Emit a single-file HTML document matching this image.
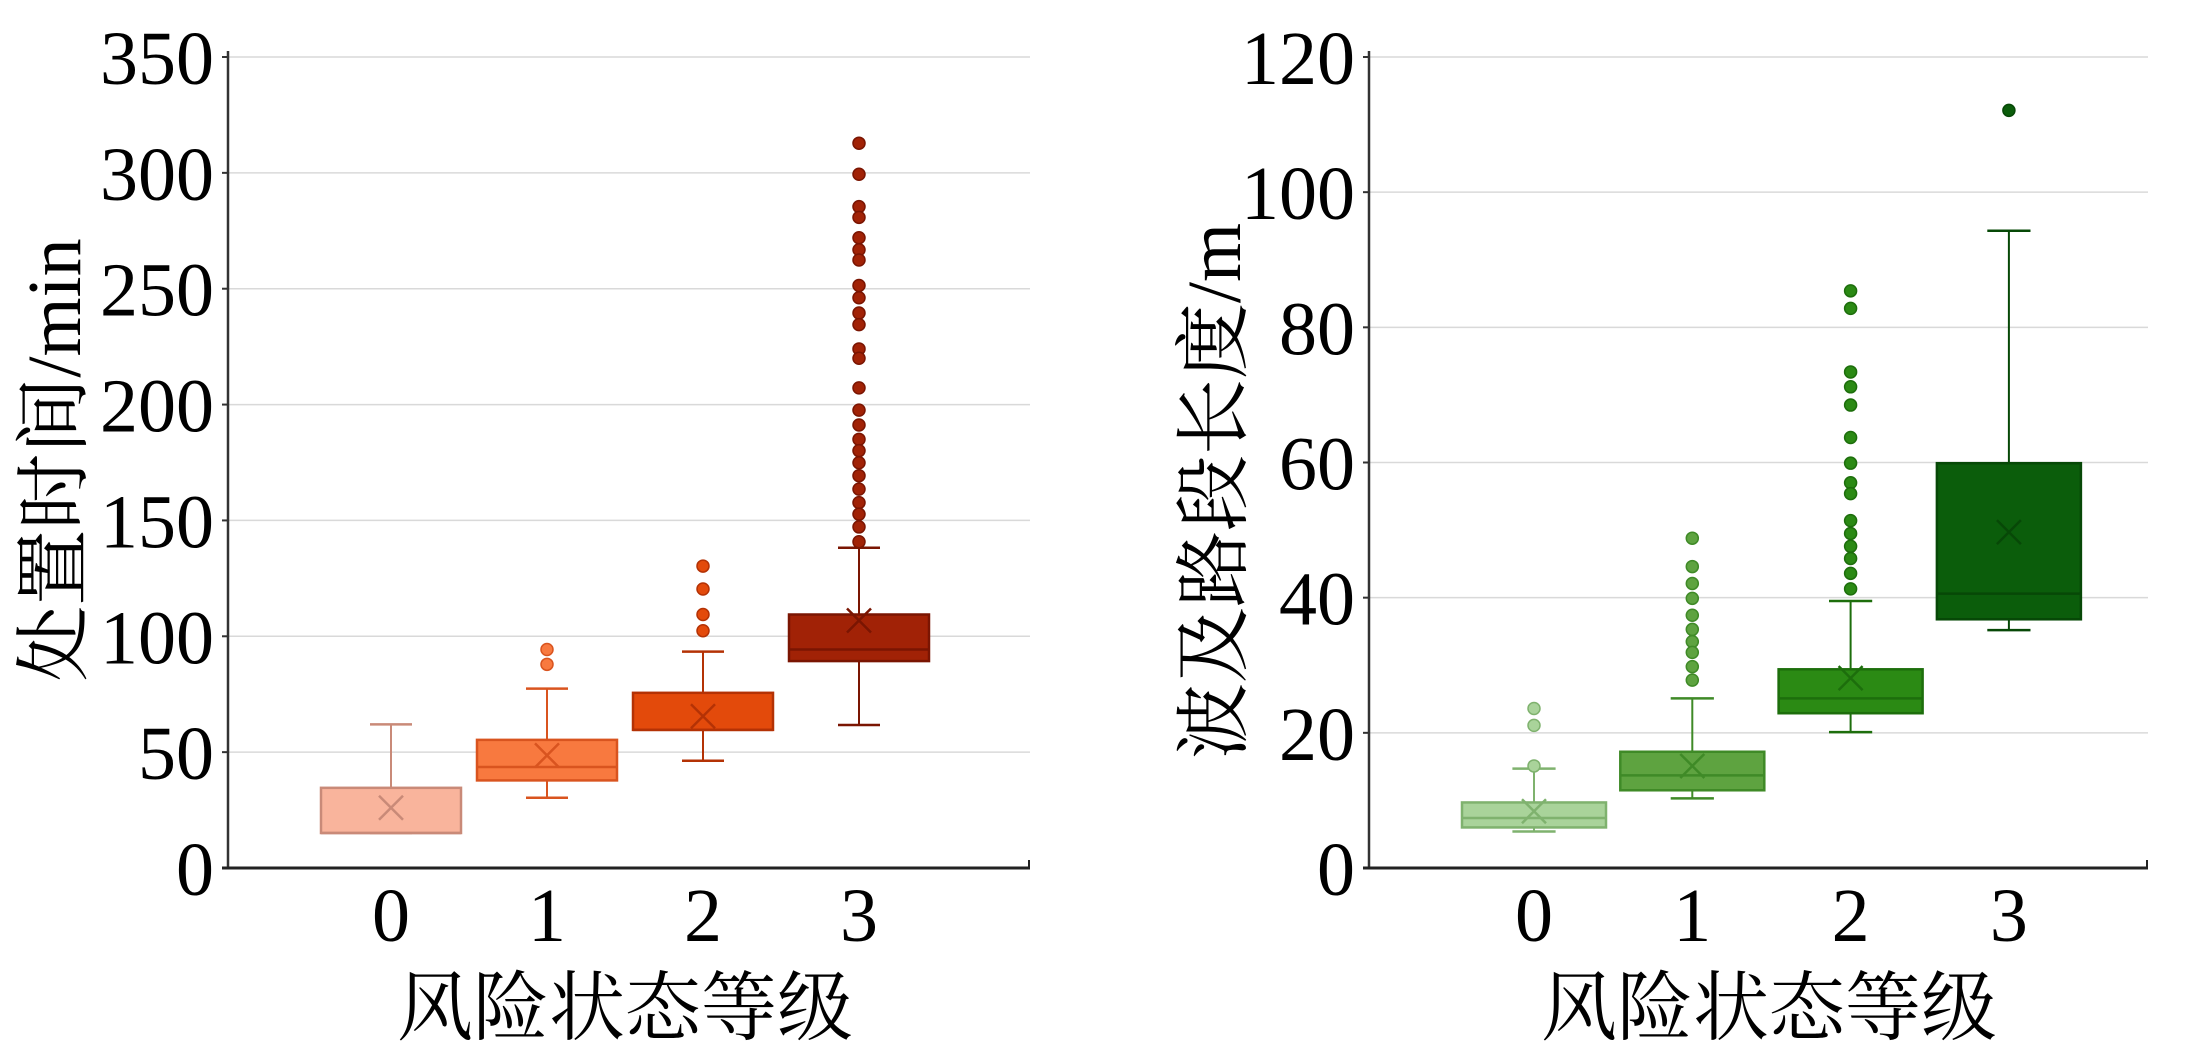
<!DOCTYPE html>
<html><head><meta charset="utf-8"><style>
html,body{margin:0;padding:0;background:#fff;width:2187px;height:1059px;overflow:hidden}
svg{display:block}
text{font-family:"Liberation Serif","Noto Serif CJK SC",serif;fill:#000}
</style></head><body>
<svg id="chart" width="2187" height="1059" viewBox="0 0 2187 1059" xmlns="http://www.w3.org/2000/svg"></svg>
<script>
// ---- data: left chart (处置时间/min) ----
const categories = ["0","1","2","3"];
const leftTicks = [0,50,100,150,200,250,300,350];
const leftQ1 = [15.1, 37.8, 59.6, 89.3];
const leftQ3 = [34.6, 55.3, 75.6, 109.4];
const leftMedian = [15.1, 43.6, 59.6, 94.3];
const leftMean = [26, 48.6, 65.5, 106.8];
const leftWhiskerLow = [15.1, 30.3, 46.3, 61.7];
const leftWhiskerHigh = [62, 77.4, 93.4, 138.2];
const leftOutliers0 = [];
const leftOutliers1 = [94.3, 87.9];
const leftOutliers2 = [130.3, 120.4, 109.4, 102.4];
const leftOutliers3 = [312.8,299.4,285.4,280.8,272,266.8,262.4,251.4,246.1,239.5,234.5,224,220,207.2,197.6,191.2,185,180.1,174.9,169.3,163.5,157.7,152.7,147.2,140.8];
// ---- data: right chart (波及路段长度/m) ----
const rightTicks = [0,20,40,60,80,100,120];
const rightQ1 = [6.0, 11.5, 22.9, 36.8];
const rightQ3 = [9.7, 17.2, 29.4, 59.9];
const rightMedian = [7.4, 13.7, 25.1, 40.6];
const rightMean = [8.4, 15.1, 28.1, 49.7];
const rightWhiskerLow = [5.4, 10.3, 20.1, 35.2];
const rightWhiskerHigh = [14.7, 25.1, 39.5, 94.3];
const rightOutliers0 = [15.1, 21.1, 23.6];
const rightOutliers1 = [48.8,44.6,42.1,39.9,37.4,35.3,33.5,31.9,29.8,27.8];
const rightOutliers2 = [85.4,82.8,73.4,71.2,68.5,63.7,59.9,57,55.4,51.4,49.5,47.6,45.8,43.6,41.3];
const rightOutliers3 = [112.1];

const NS="http://www.w3.org/2000/svg";
const svg=document.getElementById('chart');
function mk(tag,attrs,parent){const e=document.createElementNS(NS,tag);for(const k in attrs)e.setAttribute(k,attrs[k]);(parent||svg).appendChild(e);return e;}

function drawPanel(cfg){
  const g=mk('g',{});
  
  
  const y=v=>cfg.y0-(v-cfg.min)/(cfg.max-cfg.min)*(cfg.y0-cfg.y1);
  const x=i=>cfg.cx0+i*cfg.step;
  cfg.ticks.forEach(t=>{
    if(t>0){const gl=mk('line',{x1:cfg.ax,x2:cfg.axEnd,y1:y(t),y2:y(t),stroke:'#d9d9d9','stroke-width':1.5},g);
      }
    const tk=mk('line',{x1:cfg.ax-6,x2:cfg.ax,y1:y(t),y2:y(t),stroke:'#333','stroke-width':2},g);
    
    const tl=mk('text',{x:cfg.ax-14,y:y(t)+27,'text-anchor':'end','font-size':76},g);
    tl.textContent=t;
    
  });
  const ya=mk('line',{x1:cfg.ax,x2:cfg.ax,y1:cfg.y1-6,y2:cfg.y0+1,stroke:'#333','stroke-width':2.5},g);
  
  const xa=mk('line',{x1:cfg.ax-6,x2:cfg.axEnd,y1:cfg.y0,y2:cfg.y0,stroke:'#222','stroke-width':3},g);
  
  const et=mk('line',{x1:cfg.axEnd-1,x2:cfg.axEnd-1,y1:cfg.y0-8,y2:cfg.y0,stroke:'#222','stroke-width':2},g);
  
  categories.forEach((c,i)=>{
    const cx=x(i), hw=cfg.bw/2, wh=cfg.bw*0.15;
    const col=cfg.fills[i], st=cfg.strokes[i];
    const bg=mk('g',{},g);
    
    mk('line',{x1:cx,x2:cx,y1:y(cfg.wh[i]),y2:y(cfg.q3[i]),stroke:st,'stroke-width':2},bg);
    mk('line',{x1:cx,x2:cx,y1:y(cfg.q1[i]),y2:y(cfg.wl[i]),stroke:st,'stroke-width':2},bg);
    mk('line',{x1:cx-wh,x2:cx+wh,y1:y(cfg.wh[i]),y2:y(cfg.wh[i]),stroke:st,'stroke-width':2.5},bg);
    mk('line',{x1:cx-wh,x2:cx+wh,y1:y(cfg.wl[i]),y2:y(cfg.wl[i]),stroke:st,'stroke-width':2.5},bg);
    mk('rect',{x:cx-hw,y:y(cfg.q3[i]),width:cfg.bw,height:y(cfg.q1[i])-y(cfg.q3[i]),fill:col,stroke:st,'stroke-width':2.5},bg);
    mk('line',{x1:cx-hw,x2:cx+hw,y1:y(cfg.med[i]),y2:y(cfg.med[i]),stroke:st,'stroke-width':2.5},bg);
    const m=y(cfg.mean[i]), s=12;
    mk('path',{d:`M${cx-s} ${m-s}L${cx+s} ${m+s}M${cx-s} ${m+s}L${cx+s} ${m-s}`,stroke:st,'stroke-width':2.5,fill:'none'},bg);
    cfg.outs[i].forEach(v=>{
      const o=mk('circle',{cx:cx,cy:y(v),r:6,fill:col,stroke:st,'stroke-width':1.5},bg);
      
      
    });
    const xl=mk('text',{x:cx,y:cfg.y0+73,'text-anchor':'middle','font-size':76},g);
    xl.textContent=c;
    
  });
  const xt=mk('text',{x:cfg.xlabX,y:1034,'text-anchor':'middle','font-size':76},g);
  xt.textContent='风险状态等级';
  
  const yt=mk('text',{x:0,y:0,'text-anchor':'middle','font-size':76,transform:`translate(${cfg.ylabX},${cfg.ylabY}) rotate(-90)`},g);
  yt.textContent=cfg.ylabel;
  
}

drawPanel({name:'left-chart-disposal-time',ax:228,axEnd:1030,y0:868,y1:57,min:0,max:350,cx0:391,step:156,bw:140,
  ticks:leftTicks,q1:leftQ1,q3:leftQ3,med:leftMedian,mean:leftMean,wl:leftWhiskerLow,wh:leftWhiskerHigh,
  outs:[leftOutliers0,leftOutliers1,leftOutliers2,leftOutliers3],
  fills:['#f9b49c','#f8793f','#e34a0b','#a12206'],strokes:['#c98a78','#d9541f','#b43205','#7a1502'],
  xlabX:625,ylabX:80,ylabY:460,ylabel:'处置时间/min'});
drawPanel({name:'right-chart-affected-length',ax:1369,axEnd:2148,y0:868,y1:57,min:0,max:120,cx0:1534,step:158.3,bw:144,
  ticks:rightTicks,q1:rightQ1,q3:rightQ3,med:rightMedian,mean:rightMean,wl:rightWhiskerLow,wh:rightWhiskerHigh,
  outs:[rightOutliers0,rightOutliers1,rightOutliers2,rightOutliers3],
  fills:['#a9d39a','#5ea340','#2b8a14','#0b5d0b'],strokes:['#7fb26e','#3f8a27','#1d6e0c','#074807'],
  xlabX:1769,ylabX:1240,ylabY:491,ylabel:'波及路段长度/m'});
</script>
</body></html>
